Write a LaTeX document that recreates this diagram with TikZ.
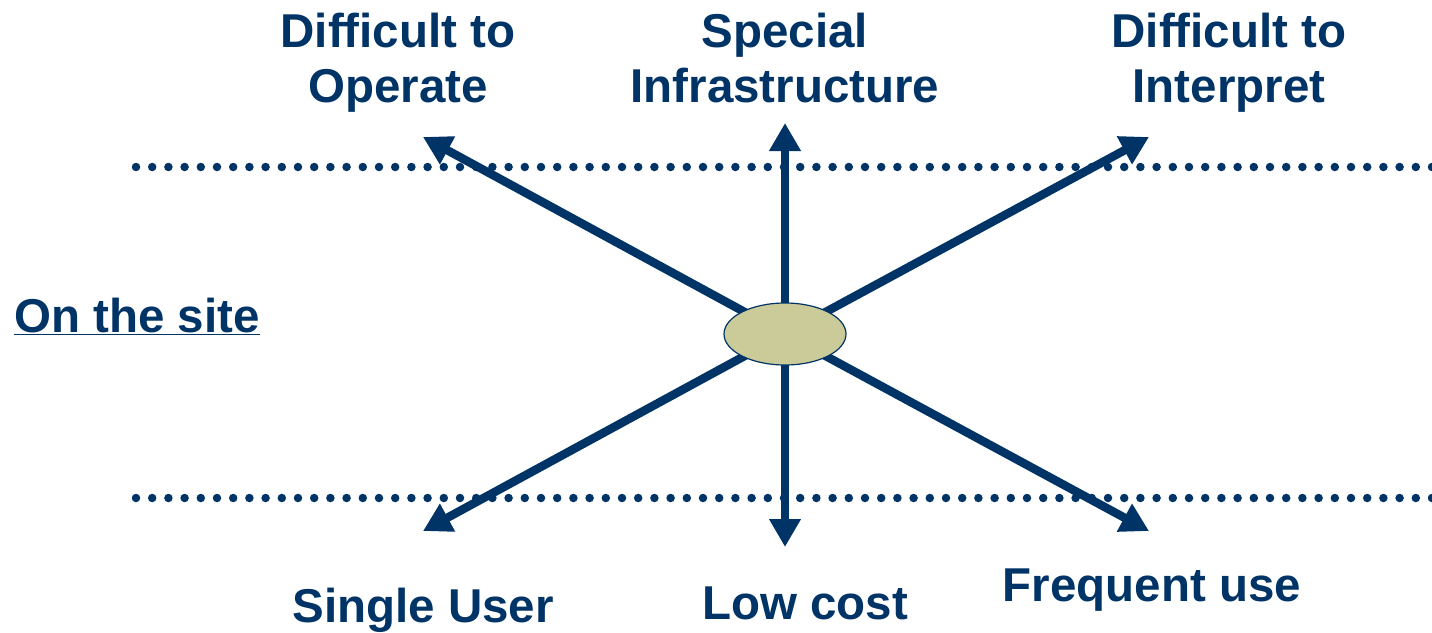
\documentclass[tikz,border=0pt]{standalone}
\usepackage{fontspec}
\setmainfont{Liberation Sans}
\usetikzlibrary{arrows.meta,shapes.geometric}
\definecolor{navy}{HTML}{003366}
\definecolor{khaki}{HTML}{CBCB99}
\tikzset{
  lbl/.style={text=navy, font=\fontsize{47.5}{55}\selectfont\bfseries, align=center, inner sep=0pt},
  ray/.style={draw=navy, line width=8.5pt, -{Triangle[length=28pt,width=30pt]}},
  dots/.style={draw=navy, line width=8.5pt, line cap=round, dash pattern=on 0pt off 16.2pt},
  hub/.style={ellipse, draw=navy, line width=1.2pt, fill=khaki, minimum width=122pt, minimum height=62pt, inner sep=0pt}
}
\begin{document}
\begin{tikzpicture}[x=1pt,y=-1pt]
\useasboundingbox (0,0) rectangle (1432,632);
% dotted lines
\coordinate (t1) at (136,167); \coordinate (t2) at (1432,167);
\coordinate (b1) at (136,498); \coordinate (b2) at (1432,498);
\draw[dots] (t1) -- (t2);
\draw[dots] (b1) -- (b2);
% arrows
\coordinate (o) at (785,334);
\coordinate (up) at (785,123);
\coordinate (dn) at (785,547);
\coordinate (ul) at (423,137);
\coordinate (ur) at (1149,137);
\coordinate (dl) at (423,531);
\coordinate (dr) at (1149,531);
\foreach \e in {up,dn,ul,ur,dl,dr} \draw[ray] (o) -- (\e);
\node[hub] (c) at (o) {};
% labels
\node[lbl, anchor=north] (op) at (398,13) {Difficult to\\Operate};
\node[lbl, anchor=north] (sp) at (785,13) {Special\\Infrastructure};
\node[lbl, anchor=north] (ip) at (1229,13) {Difficult to\\Interpret};
\node[lbl, anchor=base west] (site) at (14,332) {\underline{On the site}};
\node[lbl, anchor=base] (su) at (423,622) {Single User};
\node[lbl, anchor=base] (lc) at (805,619) {Low cost};
\node[lbl, anchor=base] (fu) at (1152,601) {Frequent use};
\end{tikzpicture}
\end{document}
